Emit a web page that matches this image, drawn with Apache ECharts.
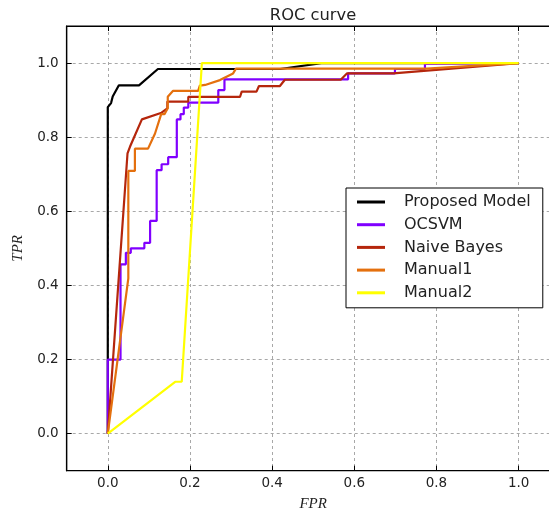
<!DOCTYPE html>
<html>
<head>
<meta charset="utf-8">
<script src="https://cdn.jsdelivr.net/npm/echarts@6/dist/echarts.min.js"></script>
<style>html,body{margin:0;padding:0;background:#fff;}#chart{width:549px;height:511px;}</style>
</head>
<body>
<div id="chart"></div>
<script>
// ---- data ----
const seriesNames = ['Proposed Model', 'OCSVM', 'Naive Bayes', 'Manual1', 'Manual2'];
const seriesColors = ['#000000', '#8000ff', '#b5260c', '#e4700e', '#ffff00'];

const proposedFPR = [0, 0, 0.008, 0.012, 0.027, 0.076, 0.122, 0.31, 0.42, 0.52, 1.0];
const proposedTPR = [0, 0.881, 0.892, 0.91, 0.94, 0.94, 0.984, 0.984, 0.984, 1.0, 1.0];

const ocsvmFPR = [0, 0, 0.031, 0.031, 0.044, 0.044, 0.056, 0.056, 0.089, 0.089, 0.103, 0.103, 0.119, 0.119, 0.131, 0.131, 0.147, 0.147, 0.168, 0.168, 0.177, 0.177, 0.185, 0.185, 0.196, 0.196, 0.269, 0.269, 0.284, 0.284, 0.585, 0.585, 0.699, 0.699, 0.772, 0.772, 1.0];
const ocsvmTPR = [0, 0.2, 0.2, 0.457, 0.457, 0.488, 0.488, 0.5, 0.5, 0.515, 0.515, 0.574, 0.574, 0.711, 0.711, 0.727, 0.727, 0.746, 0.746, 0.848, 0.848, 0.862, 0.862, 0.88, 0.88, 0.893, 0.893, 0.927, 0.927, 0.956, 0.956, 0.972, 0.972, 0.984, 0.984, 0.998, 1.0];

const nbFPR = [0, 0.048, 0.054, 0.083, 0.131, 0.145, 0.145, 0.196, 0.196, 0.322, 0.326, 0.362, 0.368, 0.419, 0.431, 0.567, 0.582, 0.695, 1.0];
const nbTPR = [0, 0.756, 0.774, 0.848, 0.866, 0.878, 0.896, 0.896, 0.909, 0.909, 0.923, 0.923, 0.938, 0.938, 0.955, 0.955, 0.972, 0.972, 1.0];

const m1FPR = [0, 0.05, 0.05, 0.066, 0.066, 0.098, 0.115, 0.13, 0.138, 0.146, 0.146, 0.159, 0.22, 0.224, 0.237, 0.273, 0.289, 0.305, 0.312, 0.776, 1.0];
const m1TPR = [0, 0.419, 0.709, 0.709, 0.769, 0.769, 0.81, 0.862, 0.862, 0.878, 0.909, 0.925, 0.925, 0.939, 0.941, 0.954, 0.963, 0.972, 0.985, 0.985, 1.0];

const m2FPR = [0, 0.164, 0.18, 0.229, 1.0];
const m2TPR = [0, 0.14, 0.14, 1.0, 1.0];

const tickValues = [0, 0.2, 0.4, 0.6, 0.8, 1.0];

// ---- chart ----
const zip = (xs, ys) => xs.map((x, i) => [x, ys[i]]);
const allData = [
  zip(proposedFPR, proposedTPR),
  zip(ocsvmFPR, ocsvmTPR),
  zip(nbFPR, nbTPR),
  zip(m1FPR, m1TPR),
  zip(m2FPR, m2TPR)
];

const FONT = 'DejaVu Sans';
const gridLine = { show: true, lineStyle: { color: '#a8a8a8', width: 1, type: [3, 3] } };

const chart = echarts.init(document.getElementById('chart'), null, { renderer: 'canvas' });
chart.setOption({
  animation: false,
  backgroundColor: '#fff',
  title: {
    text: 'ROC curve', left: 313, top: 7.5, textAlign: 'center', padding: 0,
    textStyle: { fontFamily: FONT, fontSize: 16.3, fontWeight: 'normal', color: '#222' }
  },
  grid: {
    left: 66.7, top: 26, right: -10.7, bottom: 40.3,
    containLabel: false, outerBoundsMode: 'none',
    show: true, borderColor: '#000', borderWidth: 1.2, backgroundColor: 'transparent'
  },
  legend: {
    orient: 'vertical', left: 346, top: 188,
    padding: [6, 12, 7, 11], itemGap: 6.7, itemWidth: 28, itemHeight: 3, icon: 'rect',
    backgroundColor: '#fff', borderColor: '#000', borderWidth: 1, borderRadius: 0,
    textStyle: { fontFamily: FONT, fontSize: 16, color: '#222', padding: [0, 0, 0, 14] },
    data: seriesNames
  },
  xAxis: [{
    type: 'value', min: -0.1, max: 1.1, interval: 0.1, position: 'bottom', z: 3,
    axisLine: { show: true, onZero: false, lineStyle: { color: '#000', width: 1.2 } },
    axisTick: { show: true, inside: true, length: 5, customValues: tickValues, lineStyle: { color: '#000' } },
    axisLabel: { customValues: tickValues, formatter: v => v.toFixed(1), margin: 6, fontFamily: FONT, fontSize: 13.5, color: '#222' },
    splitLine: gridLine,
    name: 'FPR', nameLocation: 'middle', nameGap: 26,
    nameTextStyle: { fontFamily: 'Liberation Serif', fontStyle: 'italic', fontSize: 15, color: '#222' }
  }, {
    type: 'value', min: -0.1, max: 1.1, interval: 0.1, position: 'top', z: 3,
    axisLine: { show: true, onZero: false, lineStyle: { color: '#000', width: 1.2 } },
    axisTick: { show: true, inside: true, length: 5, customValues: tickValues, lineStyle: { color: '#000' } },
    axisLabel: { show: false },
    splitLine: { show: false }
  }],
  yAxis: [{
    type: 'value', min: -0.1, max: 1.1, interval: 0.1, z: 3,
    axisLine: { show: true, onZero: false, lineStyle: { color: '#000', width: 1.2 } },
    axisTick: { show: true, inside: true, length: 5, customValues: tickValues, lineStyle: { color: '#000' } },
    axisLabel: { customValues: tickValues, formatter: v => v.toFixed(1), margin: 8, fontFamily: FONT, fontSize: 13.5, color: '#222' },
    splitLine: gridLine,
    name: 'TPR', nameLocation: 'middle', nameGap: 41,
    nameTextStyle: { fontFamily: 'Liberation Serif', fontStyle: 'italic', fontSize: 15, color: '#222' }
  }],
  series: seriesNames.map((name, i) => ({
    name, type: 'line', data: allData[i], xAxisIndex: 0, yAxisIndex: 0,
    showSymbol: false, symbol: 'none', clip: true,
    color: seriesColors[i],
    lineStyle: { color: seriesColors[i], width: 2.2 },
    emphasis: { disabled: true }
  }))
});
</script>
</body>
</html>
